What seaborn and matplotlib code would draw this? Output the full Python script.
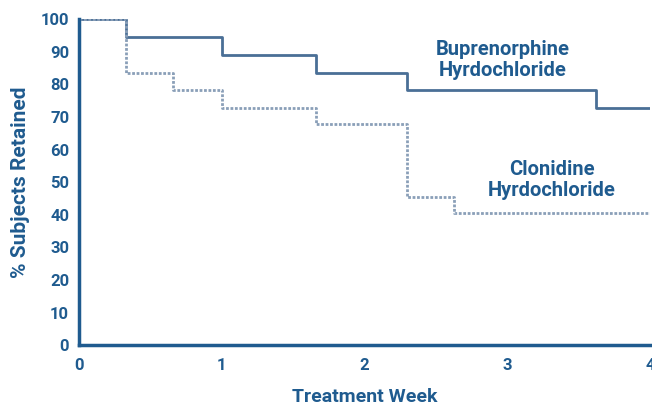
import pandas as pd
import matplotlib.pyplot as plt
import seaborn as sns

# Step data (weeks, % retained)
bup_week = [0, 0.33, 1.0, 1.66, 2.3, 3.62, 4.0]
bup_pct = [100, 94.5, 89.0, 83.4, 78.2, 72.7, 72.7]

clon_week = [0, 0.33, 0.66, 1.0, 1.66, 2.3, 2.63, 4.0]
clon_pct = [100, 83.4, 78.2, 72.7, 67.8, 45.6, 40.6, 40.6]

x_ticks = [0, 1, 2, 3, 4]
y_ticks = list(range(0, 101, 10))

blue = "#1f5b8f"
line_blue = "#4a6f96"
dot_blue = "#8a9fb8"

sns.set_style("white")
plt.rcParams['font.family'] = ['Roboto', 'DejaVu Sans']

bup = pd.DataFrame({"week": bup_week, "pct": bup_pct})
clon = pd.DataFrame({"week": clon_week, "pct": clon_pct})

fig = plt.figure(figsize=(6.52, 4.08), dpi=100)
ax = fig.add_axes([0.121, 0.154, 0.876, 0.799])

sns.lineplot(data=bup, x="week", y="pct", ax=ax, drawstyle="steps-post",
             color=line_blue, linewidth=2)
sns.lineplot(data=clon, x="week", y="pct", ax=ax, drawstyle="steps-post",
             color=dot_blue, linewidth=2, linestyle=(0, (1, 0.6)))

ax.set_xlim(0, 4)
ax.set_ylim(0, 100)
ax.set_xticks(x_ticks)
ax.set_yticks(y_ticks)
ax.tick_params(axis="both", colors=blue, labelsize=12, width=2, length=5,
               direction="out", pad=2)
ax.tick_params(axis="x", pad=4)
for lab in ax.get_xticklabels() + ax.get_yticklabels():
    lab.set_fontweight("bold")
    lab.set_color(blue)

for side in ["top", "right"]:
    ax.spines[side].set_visible(False)
for side in ["left", "bottom"]:
    ax.spines[side].set_color(blue)
    ax.spines[side].set_linewidth(2.5)

ax.set_xlabel("Treatment Week", color=blue, fontsize=14, fontweight="bold", labelpad=11)
ax.set_ylabel("% Subjects Retained", color=blue, fontsize=15, fontweight="bold", labelpad=8)

ax.text(2.97, 87.4, "Buprenorphine\nHyrdochloride", color=blue, fontsize=14.5,
        fontweight="bold", ha="center", va="center", linespacing=1.15)
ax.text(3.31, 50.6, "Clonidine\nHyrdochloride", color=blue, fontsize=14.5,
        fontweight="bold", ha="center", va="center", linespacing=1.15)

fig.savefig("out.png", dpi=100)
